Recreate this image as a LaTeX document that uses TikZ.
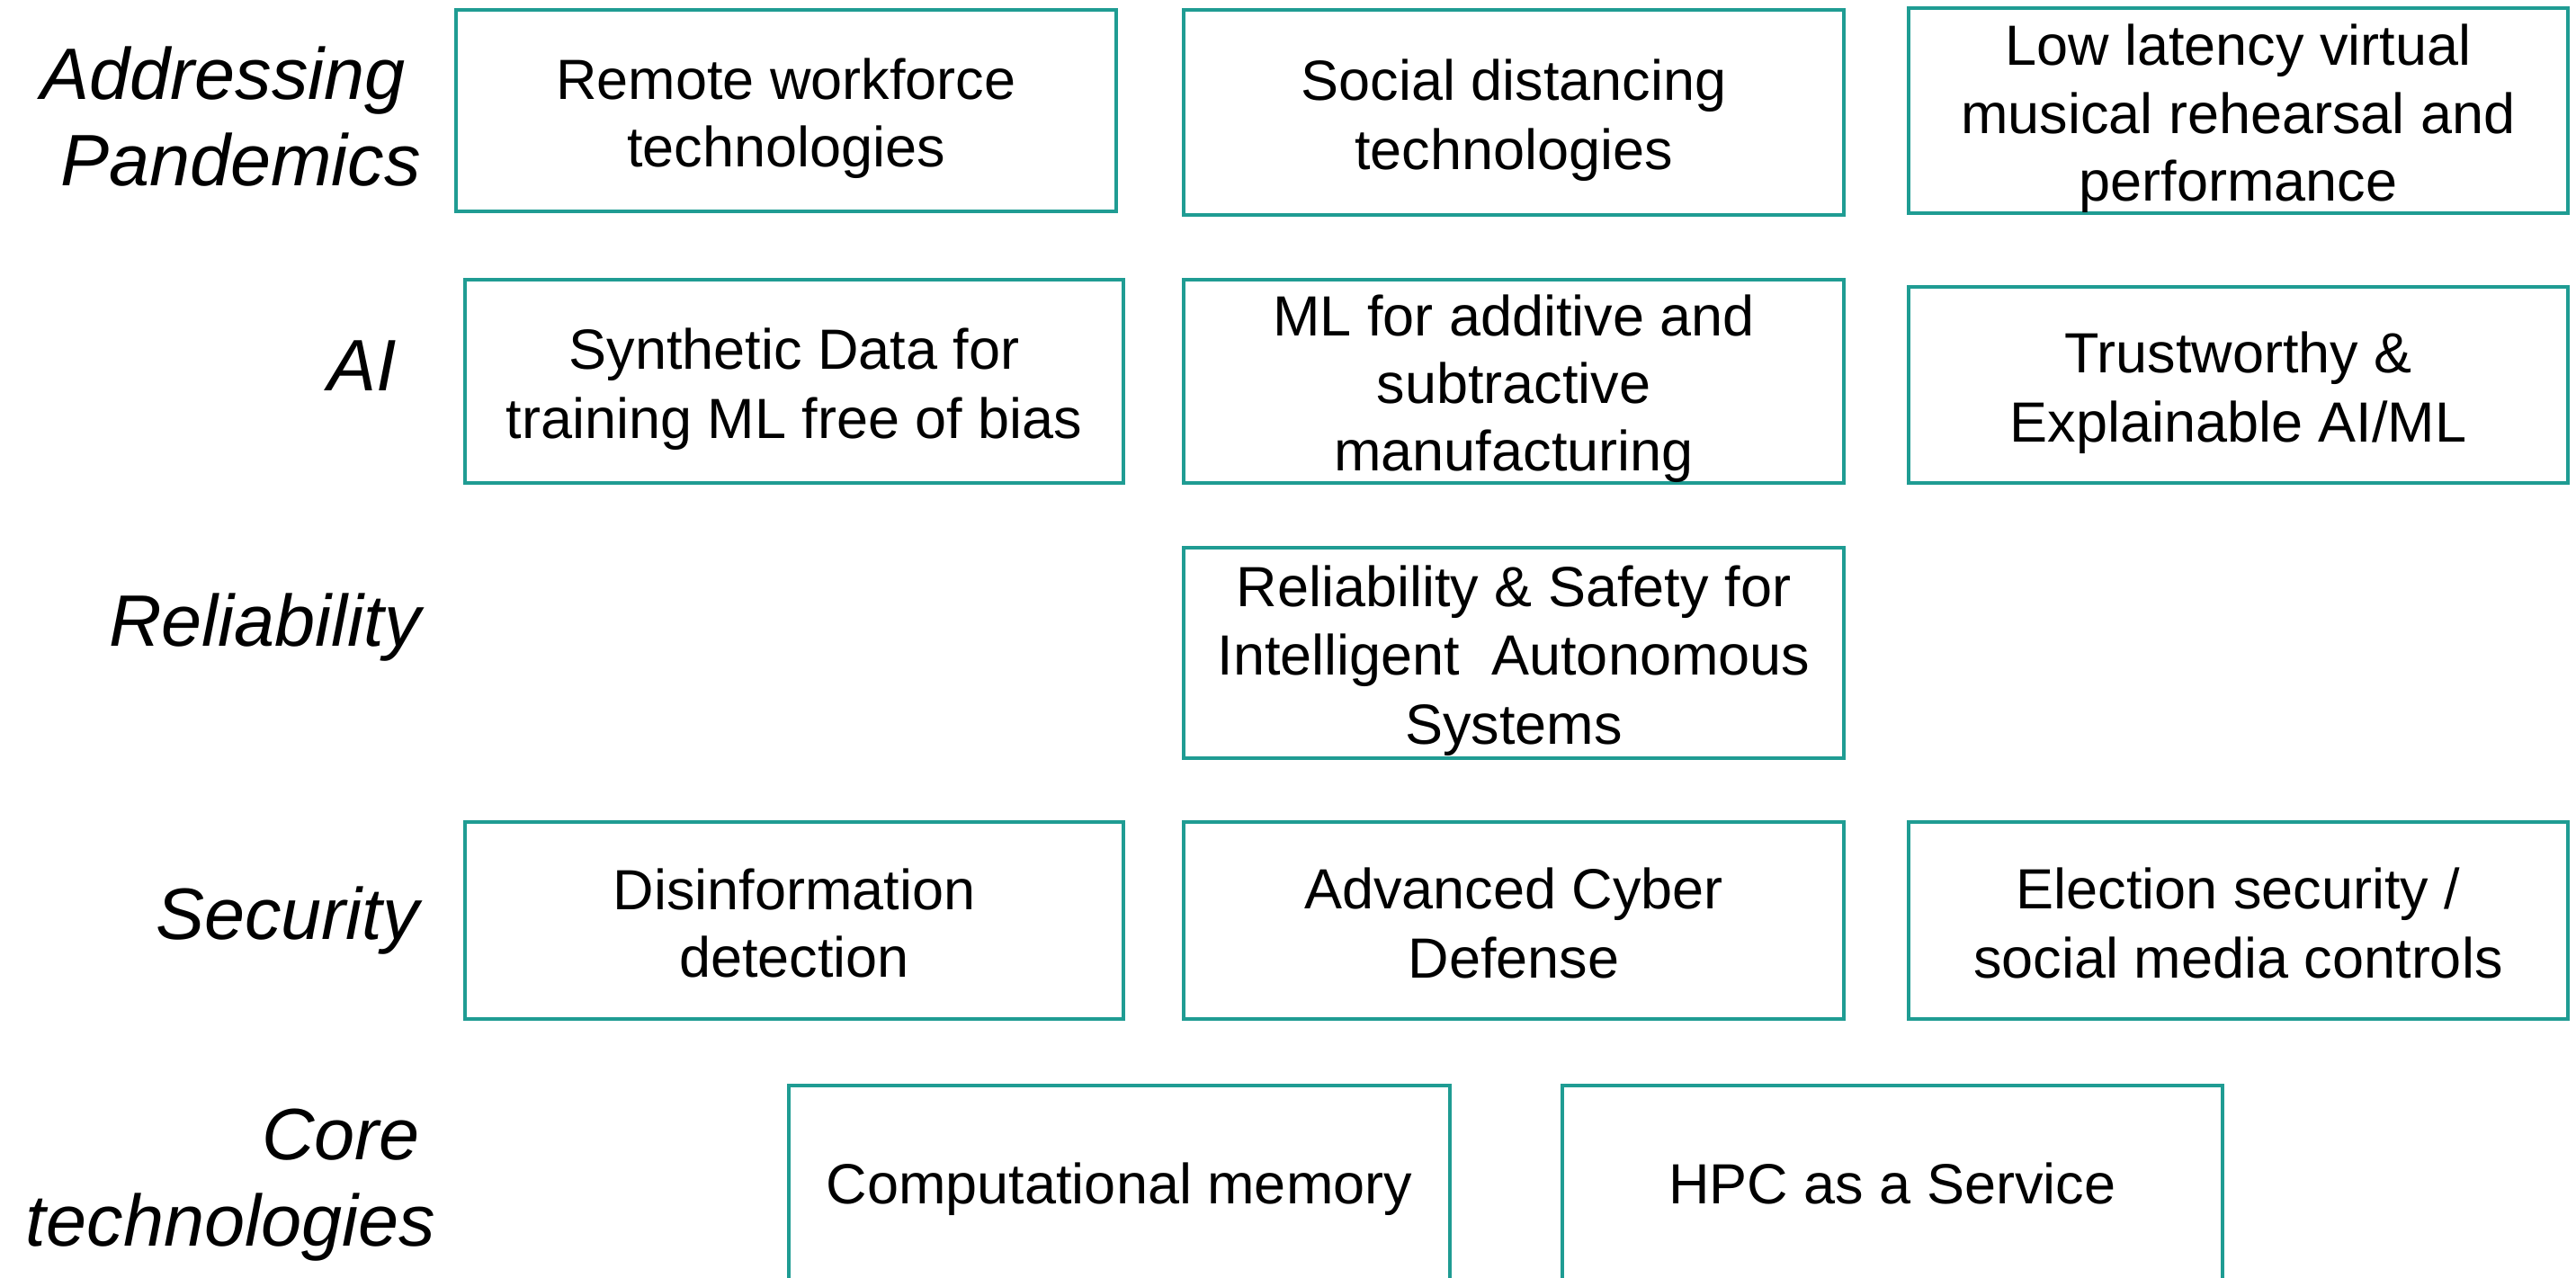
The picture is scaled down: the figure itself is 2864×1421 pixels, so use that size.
\documentclass[tikz,border=0pt]{standalone}
\usepackage{fontspec}
\setmainfont{Liberation Sans}
\definecolor{tealline}{HTML}{1F9C93}
\newcommand{\bxs}{\rule[-12.3pt]{0pt}{75pt}}
\newcommand{\lbs}{\rule[-20pt]{0pt}{96pt}}
\begin{document}
\begin{tikzpicture}[x=1pt,y=-1pt,
  box/.style={draw=tealline, line width=4pt, inner sep=0pt, align=center,
    font=\fontsize{63}{75}\selectfont, text=black},
  corebox/.style={box, anchor=north, minimum width=735pt, minimum height=240pt,
    text height=48pt, text depth=26pt},
  lab/.style={inner sep=0pt, align=right, anchor=north east,
    font=\fontsize{81}{96}\selectfont\itshape, text=black}]
\useasboundingbox (0,0) rectangle (2864,1421);
\clip (0,0) rectangle (2864,1421);
% row labels
\node[lab] (lpand) at (468,34.7) {\lbs Addressing\hspace*{17pt}\\\lbs Pandemics};
\node[lab] (lai) at (441,358) {\lbs AI};
\node[lab] (lrel) at (468,642) {\lbs Reliability};
\node[lab] (lsec) at (466,968) {\lbs Security};
\node[lab] (lcore) at (484,1213) {\lbs Core\hspace*{17pt}\\\lbs technologies};
% row 1
\node[box, minimum width=734pt, minimum height=223.5pt] (remote) at (874,123.25)
  {\bxs Remote workforce\\\bxs technologies};
\node[box, minimum width=734pt, minimum height=227.5pt] (social) at (1683,125.25)
  {\bxs Social distancing\\\bxs technologies};
\node[box, minimum width=733pt, minimum height=223.5pt] (lowlat) at (2488.5,123.25)
  {\bxs Low latency virtual\\\bxs musical rehearsal and\\\bxs performance};
% row 2
\node[box, minimum width=732pt, minimum height=226pt] (synth) at (883,424)
  {\bxs Synthetic Data for\\\bxs training ML free of bias};
\node[box, minimum width=734pt, minimum height=226pt] (mladd) at (1683,424)
  {\bxs ML for additive and\\\bxs subtractive\\\bxs manufacturing};
\node[box, minimum width=733pt, minimum height=218pt] (trust) at (2488.5,428)
  {\bxs Trustworthy \&\\\bxs Explainable AI/ML};
% row 3
\node[box, minimum width=734pt, minimum height=234pt] (relsafe) at (1683,726)
  {\bxs Reliability \& Safety for\\\bxs Intelligent\ \ Autonomous\\\bxs Systems};
% row 4
\node[box, minimum width=732pt, minimum height=219pt] (disinfo) at (883,1023.5)
  {\bxs Disinformation\\\bxs detection};
\node[box, minimum width=734pt, minimum height=219pt] (cyber) at (1683,1023.5)
  {\bxs Advanced Cyber\\\bxs Defense};
\node[box, minimum width=733pt, minimum height=219pt] (election) at (2488.5,1023.5)
  {\bxs Election security /\\\bxs social media controls};
% row 5
\node[corebox] (compmem) at (1244.5,1205) {Computational memory};
\node[corebox, minimum width=734pt] (hpc) at (2104,1205) {HPC as a Service};
\end{tikzpicture}
\end{document}
